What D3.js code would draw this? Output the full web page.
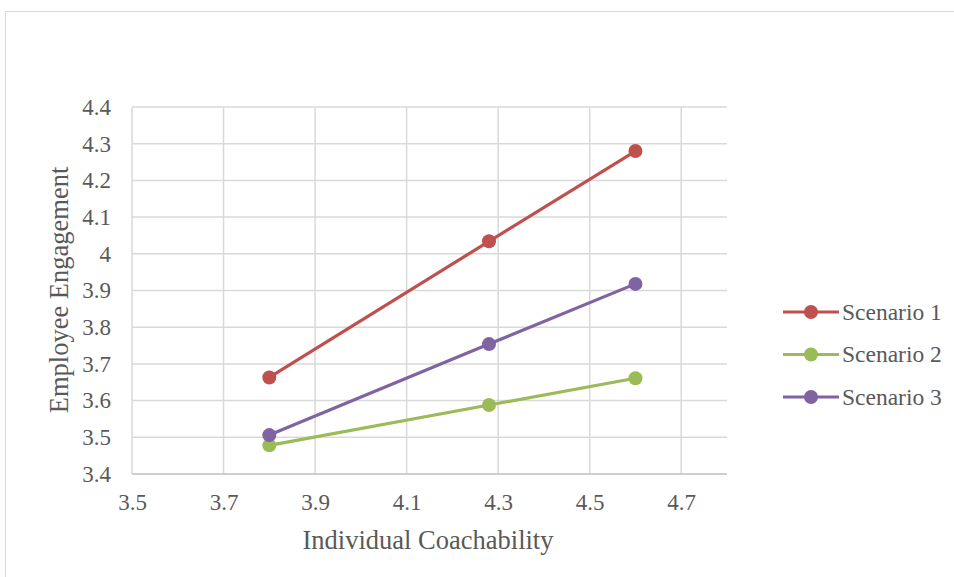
<!DOCTYPE html>
<html>
<head>
<meta charset="utf-8">
<script src="https://cdn.jsdelivr.net/npm/d3@7"></script>
<style>
  html, body { margin: 0; padding: 0; background: #fff; }
  svg { display: block; }
  text { font-family: "Liberation Serif", "Times New Roman", serif; fill: #595959; }
</style>
</head>
<body>
<svg id="chart" width="954" height="577"></svg>
<script>
// Interaction plot: engagement against coachability for three scenarios
const xValues = [3.8, 4.28, 4.6];
const seriesNames = ["Scenario 1", "Scenario 2", "Scenario 3"];
const scenario1 = [3.663, 4.034, 4.28];
const scenario2 = [3.478, 3.588, 3.661];
const scenario3 = [3.506, 3.754, 3.918];
const xTicks = [3.5, 3.7, 3.9, 4.1, 4.3, 4.5, 4.7];
const yTicks = [3.4, 3.5, 3.6, 3.7, 3.8, 3.9, 4.0, 4.1, 4.2, 4.3, 4.4];
const colors = ["#C0504D", "#9BBB59", "#8064A2"];

const series = [scenario1, scenario2, scenario3].map((vals, i) => ({
  name: seriesNames[i],
  color: colors[i],
  points: vals.map((v, j) => ({ x: xValues[j], y: v }))
}));

const svg = d3.select("#chart");

// chart frame
svg.append("rect")
  .attr("x", 5.5).attr("y", 11.5)
  .attr("width", 960).attr("height", 580)
  .attr("fill", "none").attr("stroke", "#d9d9d9");

const plot = { left: 132, right: 727, top: 107, bottom: 474 };
const x = d3.scaleLinear().domain([3.5, 4.8]).range([plot.left, plot.right]);
const y = d3.scaleLinear().domain([3.4, 4.4]).range([plot.bottom, plot.top]);

// horizontal gridlines
svg.append("g")
  .selectAll("line").data(yTicks.slice(1)).join("line")
  .attr("x1", plot.left).attr("x2", plot.right)
  .attr("y1", d => y(d)).attr("y2", d => y(d))
  .attr("stroke", "#d9d9d9").attr("stroke-width", 1.5);

// vertical gridlines
svg.append("g")
  .selectAll("line").data(xTicks).join("line")
  .attr("x1", d => x(d)).attr("x2", d => x(d))
  .attr("y1", plot.top).attr("y2", plot.bottom)
  .attr("stroke", "#d9d9d9").attr("stroke-width", 1.5);

// x axis line
svg.append("line")
  .attr("x1", plot.left).attr("x2", plot.right)
  .attr("y1", plot.bottom).attr("y2", plot.bottom)
  .attr("stroke", "#bfbfbf").attr("stroke-width", 1.5);

// y tick labels
const yAxis = d3.axisLeft(y).tickValues(yTicks).tickSize(0).tickPadding(0)
  .tickFormat(d => d3.format("")(+d.toFixed(1)));
const gy = svg.append("g").attr("transform", `translate(111,0)`).call(yAxis);
gy.select(".domain").remove();
gy.selectAll("text")
  .attr("font-family", "Liberation Serif, serif")
  .attr("font-size", 23).attr("fill", "#595959").attr("dy", "0.32em");

// x tick labels
const xAxis = d3.axisBottom(x).tickValues(xTicks).tickSize(0).tickPadding(0)
  .tickFormat(d3.format(".1f"));
const gx = svg.append("g").attr("transform", `translate(0,510)`).call(xAxis);
gx.select(".domain").remove();
gx.selectAll("text")
  .attr("font-family", "Liberation Serif, serif")
  .attr("font-size", 23).attr("fill", "#595959").attr("dy", "0");

// axis titles
svg.append("text")
  .attr("x", 428).attr("y", 549)
  .attr("text-anchor", "middle").attr("font-size", 26.5)
  .text("Individual Coachability");

svg.append("text")
  .attr("transform", `translate(68,290) rotate(-90)`)
  .attr("text-anchor", "middle").attr("font-size", 26.5)
  .text("Employee Engagement");

// series lines and markers
const line = d3.line().x(d => x(d.x)).y(d => y(d.y));
const sg = svg.append("g").selectAll("g").data(series).join("g");
sg.append("path")
  .attr("d", d => line(d.points))
  .attr("fill", "none").attr("stroke", d => d.color).attr("stroke-width", 3.2);
sg.selectAll("circle").data(d => d.points.map(p => ({ ...p, color: d.color }))).join("circle")
  .attr("cx", d => x(d.x)).attr("cy", d => y(d.y)).attr("r", 7)
  .attr("fill", d => d.color);

// legend
const lg = svg.append("g").selectAll("g").data(series).join("g")
  .attr("transform", (d, i) => `translate(783,${312 + i * 42.5})`);
lg.append("line").attr("x1", 0).attr("x2", 56).attr("y1", 0).attr("y2", 0)
  .attr("stroke", d => d.color).attr("stroke-width", 3.2);
lg.append("circle").attr("cx", 28).attr("cy", 0).attr("r", 7).attr("fill", d => d.color);
lg.append("text").attr("x", 59).attr("y", 0).attr("dy", "0.33em")
  .attr("font-size", 23.5).text(d => d.name);
</script>
</body>
</html>
